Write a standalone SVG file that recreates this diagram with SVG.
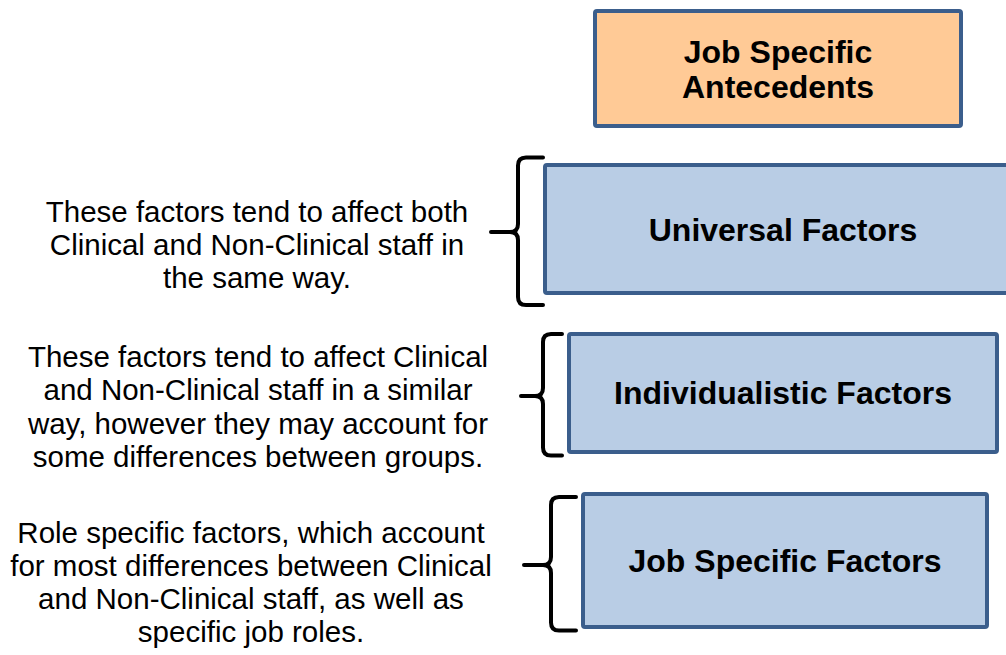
<svg xmlns="http://www.w3.org/2000/svg" width="1006" height="655" viewBox="0 0 1006 655">
  <style>
    .box { stroke: #3B5E8C; stroke-width: 4; }
    .blue { fill: #B9CDE5; }
    .orange { fill: #FFCA96; }
    .label { font-family: "Liberation Sans", Arial, sans-serif; font-weight: bold; font-size: 32px; fill: #000; text-anchor: middle; }
    .note { font-family: "Liberation Sans", Arial, sans-serif; font-size: 29.5px; fill: #000; text-anchor: middle; }
    .brace { fill: none; stroke: #000; stroke-width: 4; stroke-linecap: round; stroke-linejoin: round; }
  </style>
  <rect width="1006" height="655" fill="#FFFFFF"/>

  <!-- Top box -->
  <g id="job-specific-antecedents">
    <rect class="box orange" x="595" y="11" width="366" height="115" rx="2"/>
    <text class="label" x="778" y="63">Job Specific</text>
    <text class="label" x="778" y="98">Antecedents</text>
  </g>

  <!-- Factor boxes -->
  <g id="universal-factors">
    <rect class="box blue" x="545" y="165" width="480" height="128" rx="2"/>
    <text class="label" x="783" y="241">Universal Factors</text>
  </g>
  <g id="individualistic-factors">
    <rect class="box blue" x="569" y="334" width="428" height="118" rx="2"/>
    <text class="label" x="783" y="404">Individualistic Factors</text>
  </g>
  <g id="job-specific-factors">
    <rect class="box blue" x="583" y="494" width="404" height="133" rx="2"/>
    <text class="label" x="785" y="572">Job Specific Factors</text>
  </g>

  <!-- Curly braces linking notes to boxes -->
  <g id="connectors">
    <path class="brace" d="M543,157.5 H526 Q518,157.5 518,165.5 V224 Q518,232 510,232 H491 M510,232 Q518,232 518,240 V297 Q518,305 526,305 H543"/>
    <path class="brace" d="M562,334 H551 Q543,334 543,342 V388 Q543,396 535,396 H521 M535,396 Q543,396 543,404 V447.5 Q543,455.5 551,455.5 H562"/>
    <path class="brace" d="M576,497 H559 Q551,497 551,505 V557 Q551,565 543,565 H524 M543,565 Q551,565 551,573 V622.5 Q551,630.5 559,630.5 H576"/>
  </g>

  <!-- Notes -->
  <g id="note-universal">
    <text class="note" x="257" y="222">These factors tend to affect both</text>
    <text class="note" x="257" y="255">Clinical and Non-Clinical staff in</text>
    <text class="note" x="257" y="288">the same way.</text>
  </g>
  <g id="note-individualistic">
    <text class="note" x="258" y="367">These factors tend to affect Clinical</text>
    <text class="note" x="258" y="400">and Non-Clinical staff in a similar</text>
    <text class="note" x="258" y="434">way, however they may account for</text>
    <text class="note" x="258" y="467">some differences between groups.</text>
  </g>
  <g id="note-job-specific">
    <text class="note" x="251" y="543">Role specific factors, which account</text>
    <text class="note" x="251" y="576">for most differences between Clinical</text>
    <text class="note" x="251" y="609">and Non-Clinical staff, as well as</text>
    <text class="note" x="251" y="642">specific job roles.</text>
  </g>
</svg>
